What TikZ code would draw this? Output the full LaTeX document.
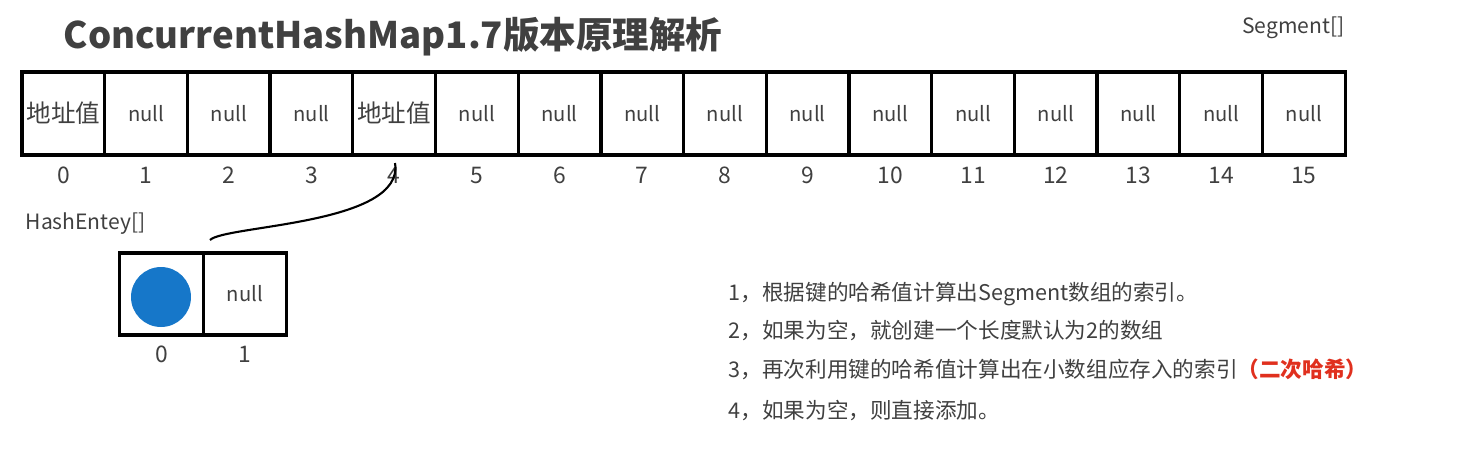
\documentclass[tikz,border=0pt]{standalone}
\usepackage{fontspec}
\setmainfont{Noto Sans CJK SC}
\usepackage{tikz}
\definecolor{txtgray}{HTML}{404040}
\definecolor{dotblue}{HTML}{1677C9}
\definecolor{hashred}{HTML}{E0301E}
\newcommand{\cellw}{1.654cm}
\newcommand{\addr}{{\fontsize{14}{16}\selectfont 地址值}}

\begin{document}
\begin{tikzpicture}[x=0.02cm, y=-0.02cm, line width=1.9pt,
    cell/.style={draw, minimum width=\cellw, minimum height=1.66cm, inner sep=0pt,
                 font=\fontsize{11.5}{13}\selectfont, text=txtgray},
    idx/.style={font=\fontsize{13}{15}\selectfont, text=txtgray},
    note/.style={anchor=west, inner sep=0pt, font=\fontsize{12.3}{14}\selectfont, text=txtgray}]
    \useasboundingbox (0,0) rectangle (1476,458);

    \node[anchor=west, inner sep=0pt, font=\fontsize{20.8}{24}\bfseries, text=txtgray] (title) at (62,37) {ConcurrentHashMap1.7版本原理解析};
    \node[anchor=east, inner sep=0pt, font=\fontsize{12}{14}\selectfont, text=txtgray] (seglabel) at (1346,28) {Segment[]};

    % Segment array
    \foreach \val [count=\i from 0] in {\addr,null,null,null,\addr,null,null,null,null,null,null,null,null,null,null,null} {
        \node[cell] (s\i) at ({22+82.7*(\i+0.5)}, 113.5) {\val};
        \node[idx] (i\i) at ({22+82.7*(\i+0.5)}, 175) {\i};
    }

    % HashEntry array
    \node[anchor=west, inner sep=0pt, font=\fontsize{12}{14}\selectfont, text=txtgray] (hashlabel) at (24,224) {HashEntey[]};
    \node[cell, minimum width=1.67cm, minimum height=1.64cm] (h0) at (161.5,294) {};
    \node[cell, minimum width=1.67cm, minimum height=1.64cm] (h1) at (245,294) {null};
    \node[circle, fill=dotblue, minimum size=1.2cm, inner sep=0pt] (dot) at (161,297) {};
    \node[idx] (j0) at (161.5,354) {0};
    \node[idx] (j1) at (245,354) {1};

    \coordinate (tail) at (210,240);
    \coordinate (tip) at (395,163);
    \draw[line width=1.2pt] (tail) .. controls (225,225) and (405,225) .. (tip);

    % steps
    \node[note] (n1) at (727,294) {1，根据键的哈希值计算出Segment数组的索引。};
    \node[note] (n2) at (727,331) {2，如果为空，就创建一个长度默认为2的数组};
    \node[note] (n3) at (727,369) {3，再次利用键的哈希值计算出在小数组应存入的索引{\color{hashred}\bfseries （二次哈希）}};
    \node[note] (n4) at (727,410) {4，如果为空，则直接添加。};
\end{tikzpicture}
\end{document}
